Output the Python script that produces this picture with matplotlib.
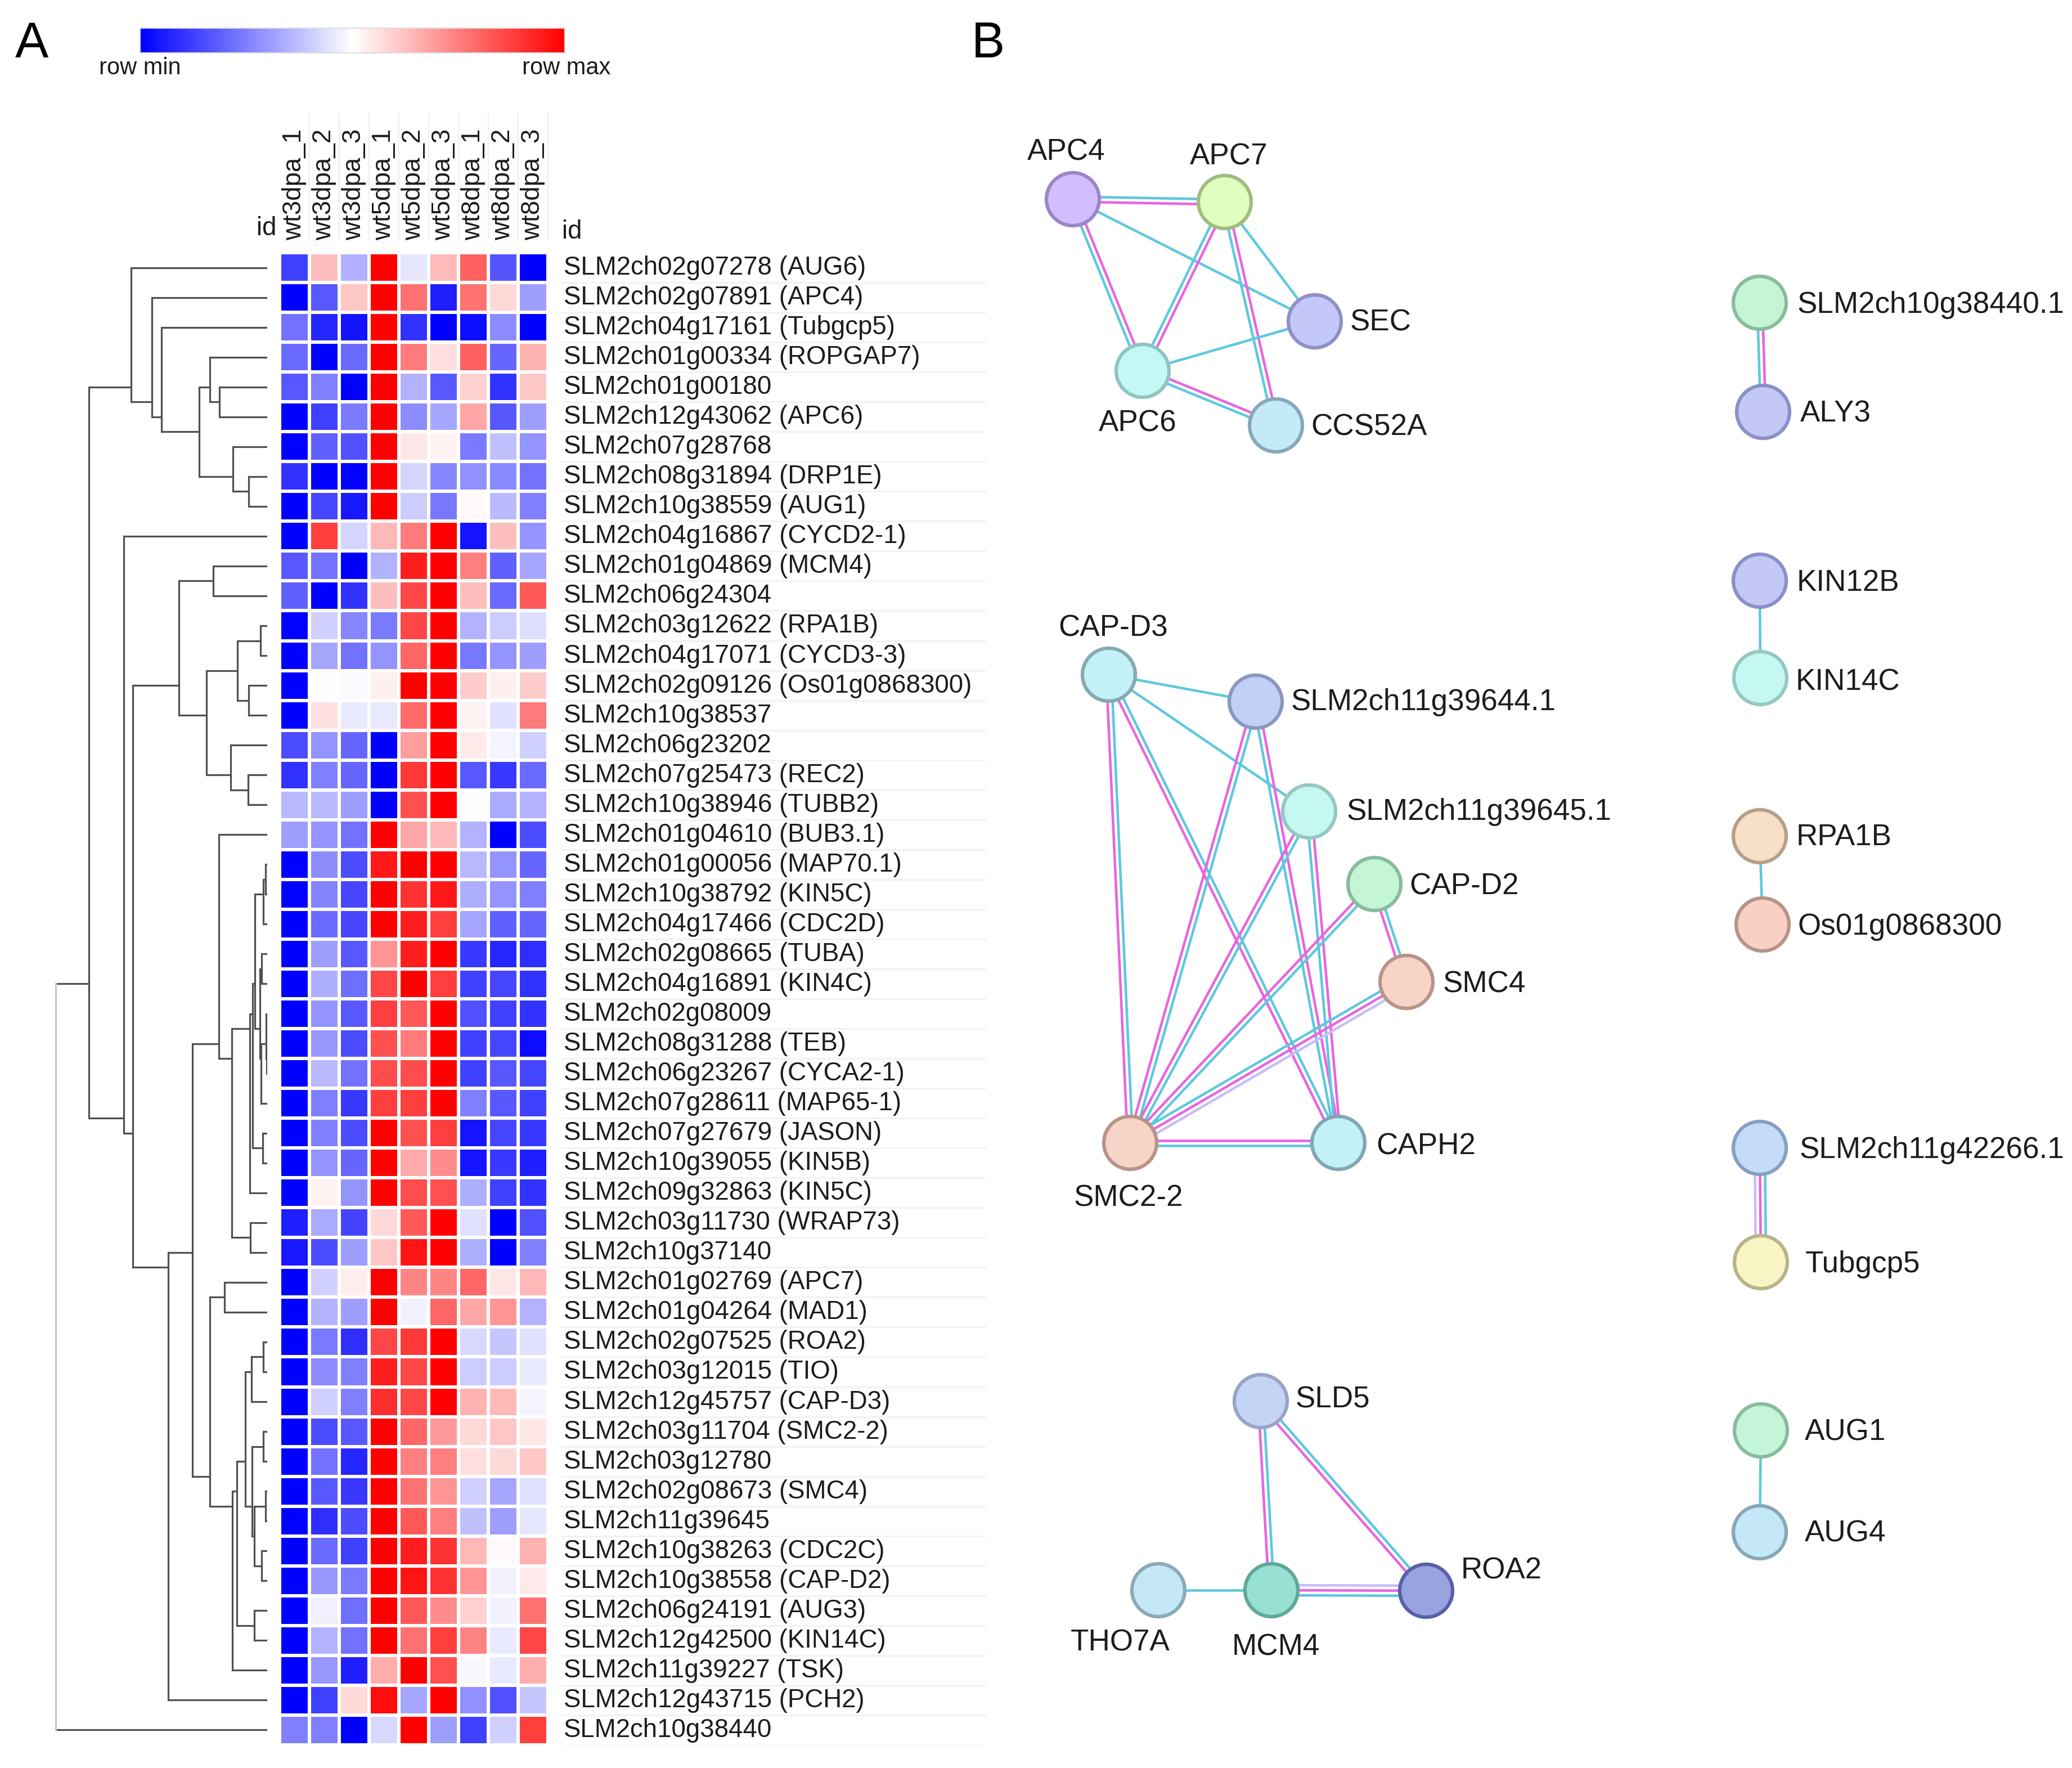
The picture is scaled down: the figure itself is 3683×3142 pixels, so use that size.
import numpy as np
from matplotlib import pyplot as plt
from matplotlib.cm import ScalarMappable
from matplotlib.colors import LinearSegmentedColormap, Normalize
from matplotlib.patches import Circle
from matplotlib.transforms import ScaledTranslation

plt.rcParams['font.family'] = ['Liberation Sans', 'DejaVu Sans']

W, H = 3683, 3142
TEXT = '#1c1c1c'

samples = ['wt3dpa_1', 'wt3dpa_2', 'wt3dpa_3', 'wt5dpa_1', 'wt5dpa_2', 'wt5dpa_3',
           'wt8dpa_1', 'wt8dpa_2', 'wt8dpa_3']

genes = ['SLM2ch02g07278 (AUG6)', 'SLM2ch02g07891 (APC4)', 'SLM2ch04g17161 (Tubgcp5)',
         'SLM2ch01g00334 (ROPGAP7)', 'SLM2ch01g00180', 'SLM2ch12g43062 (APC6)',
         'SLM2ch07g28768', 'SLM2ch08g31894 (DRP1E)', 'SLM2ch10g38559 (AUG1)',
         'SLM2ch04g16867 (CYCD2-1)', 'SLM2ch01g04869 (MCM4)', 'SLM2ch06g24304',
         'SLM2ch03g12622 (RPA1B)', 'SLM2ch04g17071 (CYCD3-3)', 'SLM2ch02g09126 (Os01g0868300)',
         'SLM2ch10g38537', 'SLM2ch06g23202', 'SLM2ch07g25473 (REC2)', 'SLM2ch10g38946 (TUBB2)',
         'SLM2ch01g04610 (BUB3.1)', 'SLM2ch01g00056 (MAP70.1)', 'SLM2ch10g38792 (KIN5C)',
         'SLM2ch04g17466 (CDC2D)', 'SLM2ch02g08665 (TUBA)', 'SLM2ch04g16891 (KIN4C)',
         'SLM2ch02g08009', 'SLM2ch08g31288 (TEB)', 'SLM2ch06g23267 (CYCA2-1)',
         'SLM2ch07g28611 (MAP65-1)', 'SLM2ch07g27679 (JASON)', 'SLM2ch10g39055 (KIN5B)',
         'SLM2ch09g32863 (KIN5C)', 'SLM2ch03g11730 (WRAP73)', 'SLM2ch10g37140',
         'SLM2ch01g02769 (APC7)', 'SLM2ch01g04264 (MAD1)', 'SLM2ch02g07525 (ROA2)',
         'SLM2ch03g12015 (TIO)', 'SLM2ch12g45757 (CAP-D3)', 'SLM2ch03g11704 (SMC2-2)',
         'SLM2ch03g12780', 'SLM2ch02g08673 (SMC4)', 'SLM2ch11g39645', 'SLM2ch10g38263 (CDC2C)',
         'SLM2ch10g38558 (CAP-D2)', 'SLM2ch06g24191 (AUG3)', 'SLM2ch12g42500 (KIN14C)',
         'SLM2ch11g39227 (TSK)', 'SLM2ch12g43715 (PCH2)', 'SLM2ch10g38440']

# row scaled colour, -100 = row min, 100 = row max
expr = [
    [-75, 25, -31, 100, -10, 27, 62, -67, -100],
    [-100, -65, 22, 100, 55, -88, 55, 15, -38],
    [-55, -85, -92, 100, -80, -100, -95, -45, -100],
    [-58, -100, -58, 100, 52, 13, 62, -60, 30],
    [-65, -50, -100, 100, -30, -65, 18, -80, 22],
    [-100, -75, -52, 100, -45, -35, 35, -65, -38],
    [-100, -62, -68, 100, 10, 5, -52, -25, -42],
    [-80, -100, -100, 100, -17, -47, -43, -46, -55],
    [-100, -72, -90, 100, -20, -53, 2, -27, -50],
    [-100, 75, -17, 28, 52, 100, -92, 25, -42],
    [-65, -55, -100, -30, 88, 100, 50, -62, -35],
    [-62, -100, -80, 25, 72, 100, 25, -58, 65],
    [-100, -18, -47, -52, 72, 100, -30, -20, -13],
    [-100, -35, -55, -42, 60, 100, -53, -42, -38],
    [-100, 1, -2, 6, 100, 100, 20, 6, 20],
    [-100, 12, -8, -9, 58, 100, 5, -12, 52],
    [-70, -42, -60, -100, 38, 100, 8, -4, -18],
    [-80, -50, -60, -100, 78, 100, -65, -78, -58],
    [-28, -28, -38, -100, 68, 100, 0, -33, -30],
    [-38, -42, -55, 100, 35, 28, -30, -100, -70],
    [-100, -45, -70, 90, 100, 100, -28, -42, -60],
    [-100, -48, -72, 100, 80, 90, -32, -42, -50],
    [-100, -58, -72, 100, 88, 75, -35, -62, -60],
    [-100, -38, -65, 42, 88, 100, -78, -85, -82],
    [-100, -32, -57, 72, 100, 75, -75, -72, -80],
    [-100, -42, -65, 75, 65, 100, -68, -75, -80],
    [-100, -40, -70, 68, 52, 100, -75, -72, -95],
    [-100, -27, -55, 70, 70, 100, -75, -65, -72],
    [-100, -50, -78, 75, 75, 100, -50, -65, -75],
    [-100, -50, -70, 100, 68, 75, -92, -72, -78],
    [-100, -42, -60, 100, 33, 45, -92, -78, -88],
    [-100, 5, -42, 100, 70, 68, -32, -75, -80],
    [-88, -33, -73, 15, 65, 100, -12, -100, -68],
    [-90, -70, -38, 22, 92, 100, -32, -100, -50],
    [-100, -18, 7, 100, 48, 48, 60, 10, 28],
    [-100, -30, -38, 100, -5, 60, 35, 42, -30],
    [-100, -52, -82, 72, 78, 100, -15, -22, -12],
    [-100, -45, -50, 88, 72, 100, -20, -20, -8],
    [-100, -18, -50, 82, 72, 100, 30, 28, -4],
    [-100, -70, -65, 100, 60, 40, 15, 22, 10],
    [-100, -55, -85, 100, 50, 50, 13, 15, 22],
    [-100, -65, -78, 100, 55, 42, -18, -35, -12],
    [-100, -82, -70, 100, 65, 50, -25, -38, -10],
    [-100, -58, -75, 100, 88, 80, 28, 2, 30],
    [-100, -40, -52, 100, 92, 80, 42, -5, 8],
    [-100, -6, -57, 100, 65, 45, 18, -5, 55],
    [-100, -30, -55, 100, 55, 75, 48, -8, 72],
    [-100, -40, -88, 32, 100, 68, -3, -8, 32],
    [-100, -75, 15, 95, -35, 100, -43, -68, -22],
    [-50, -50, -100, -15, 100, -38, -75, -18, 75],
]

# dendrogram, (merge distance, upper child, lower child), ints are row numbers
upper = (233, 1, (270, 2, (287, 3, (354, (373, 4, (390, 5, 6)), (414, 7, (442, 8, 9))))))
mid = (318, (379, 11, 12), (367, (422, (463, 13, 14), (442, 15, 16)), (410, 17, (441, 18, 19))))
block_a = (449, (453, (468, (472, 21, 22), 23),
                 (462, (465, 24, 25), (464, (473, 26, (474, 27, 28)), 29))),
           (467, 30, 31))
block_b = (389, 20, (412, (444, block_a, 32), (445, 33, 34)))
block_c = (436, (447, (468, 37, 38), 39), (448, (468, 40, 41), (452, (472, 42, 43), (465, 44, 45))))
block_d = (373, (399, 35, 36), (413, (421, block_c, (452, 46, 47)), 48))
lower = (299, (342, block_b, block_d), 49)
tree = (99, (158, upper, (220, 10, (236, mid, lower))), 50)

# network, nodes
names = ['APC4', 'APC7', 'SEC', 'APC6', 'CCS52A',
         'CAP-D3', 'SLM2ch11g39644.1', 'SLM2ch11g39645.1', 'CAP-D2', 'SMC4', 'SMC2-2', 'CAPH2',
         'SLD5', 'THO7A', 'MCM4', 'ROA2',
         'SLM2ch10g38440.1', 'ALY3', 'KIN12B', 'KIN14C', 'RPA1B', 'Os01g0868300',
         'SLM2ch11g42266.1', 'Tubgcp5', 'AUG1', 'AUG4']
node_x = [1907, 2177, 2337, 2031, 2268,
          1971, 2232, 2327, 2443, 2500, 2009, 2379,
          2241, 2059, 2260, 2535,
          3128, 3134, 3128, 3129, 3128, 3133,
          3128, 3130, 3130, 3128]
node_y = [354, 359, 571, 659, 756,
          1199, 1247, 1442, 1571, 1745, 2031, 2031,
          2490, 2826, 2826, 2827,
          538, 732, 1032, 1205, 1486, 1643,
          2040, 2243, 2542, 2723]
node_fill = ['#d3bfff', '#e0ffbe', '#c3c8f8', '#c3f8f4', '#c4e9f8',
             '#c4f0f8', '#c2d0f5', '#c6f8f2', '#c4f5d4', '#f8d4c8', '#f8d4c8', '#c4f0f8',
             '#c4d4f5', '#c4e8f8', '#98e0d4', '#98a4e0',
             '#c4f5d4', '#c3c8f5', '#c3c8f5', '#c6f8f2', '#f8e0c8', '#f8d0c4',
             '#c4dcf8', '#f8f4c4', '#c4f5d8', '#c4e8f8']
node_edge = ['#9a86c8', '#a0bc80', '#8f8fc8', '#90c4c0', '#88a8b8',
             '#85aab0', '#8898c0', '#94c8c0', '#88bc9c', '#b89488', '#b89488', '#80a8b4',
             '#98a4c8', '#8caab8', '#60a898', '#5860a8',
             '#88bc9c', '#8a90c8', '#8a90c8', '#94c8c0', '#b8a088', '#b89488',
             '#88a0c0', '#b8b488', '#88bc9c', '#88a8b8']

# label anchors: left aligned unless the label sits above or under its node
label_x = [1895, 2184, 2400, 2022, 2330,
           1979, 2295, 2394, 2505, 2565, 2006, 2446,
           2303, 1991, 2268, 2597,
           3195, 3200, 3194, 3192, 3193, 3196,
           3199, 3209, 3208, 3208]
label_y = [270, 278, 573, 752, 759,
           1116, 1248, 1443, 1575, 1749, 2130, 2037,
           2488, 2919, 2927, 2792,
           542, 735, 1036, 1212, 1488, 1647,
           2044, 2247, 2546, 2725]
label_center = ['APC4', 'APC7', 'APC6', 'CAP-D3', 'SMC2-2', 'THO7A', 'MCM4']

# network, edges as (node, node, evidence channels)
edges = [('APC4', 'APC7', 'mc'), ('APC4', 'APC6', 'cm'), ('APC4', 'SEC', 'c'), ('APC7', 'SEC', 'c'),
         ('APC7', 'APC6', 'cm'), ('APC7', 'CCS52A', 'cm'), ('APC6', 'SEC', 'c'), ('APC6', 'CCS52A', 'cm'),
         ('CAP-D3', 'SLM2ch11g39644.1', 'c'), ('CAP-D3', 'SLM2ch11g39645.1', 'c'),
         ('CAP-D3', 'SMC2-2', 'mc'), ('CAP-D3', 'CAPH2', 'mc'),
         ('SLM2ch11g39644.1', 'SMC2-2', 'mc'), ('SLM2ch11g39644.1', 'CAPH2', 'cm'),
         ('SLM2ch11g39645.1', 'SMC2-2', 'mc'), ('SLM2ch11g39645.1', 'CAPH2', 'cm'),
         ('CAP-D2', 'SMC2-2', 'mc'), ('CAP-D2', 'SMC4', 'mc'), ('SMC4', 'SMC2-2', 'cml'),
         ('SMC2-2', 'CAPH2', 'cm'),
         ('SLD5', 'MCM4', 'mc'), ('SLD5', 'ROA2', 'mc'), ('THO7A', 'MCM4', 'c'), ('MCM4', 'ROA2', 'cml'),
         ('SLM2ch10g38440.1', 'ALY3', 'cm'), ('KIN12B', 'KIN14C', 'c'), ('RPA1B', 'Os01g0868300', 'c'),
         ('SLM2ch11g42266.1', 'Tubgcp5', 'lmc'), ('AUG1', 'AUG4', 'c')]
channel_color = {'c': '#5fc8de', 'm': '#e766e0', 'l': '#c9bcfa'}


def px_axes(fig, x0, y0, x1, y1):
    return fig.add_axes([x0 / W, 1 - y1 / H, (x1 - x0) / W, (y1 - y0) / H])


def draw_tree(ax, node, root=True):
    # y of a merge is the mean row of all leaves under it
    if isinstance(node, int):
        return 475, node - 0.5, 1
    x, a, b = node
    xa, ya, na = draw_tree(ax, a, False)
    xb, yb, nb = draw_tree(ax, b, False)
    ax.plot([x, xa], [ya, ya], color='#505050', lw=2.3, solid_capstyle='butt')
    ax.plot([x, xb], [yb, yb], color='#505050', lw=2.3, solid_capstyle='butt')
    ax.plot([x, x], [ya, yb], color='#c4c4c4' if root else '#505050', lw=2.3, solid_capstyle='projecting')
    return x, (ya * na + yb * nb) / (na + nb), na + nb


fig = plt.figure(figsize=(W / 100, H / 100), dpi=100)
cmap = LinearSegmentedColormap.from_list('rowscale', ['#0000ff', '#ffffff', '#ff0000'])
norm = Normalize(-100, 100)

# heatmap
HEAT_TOP, HEAT_BOTTOM = 449, 3101
ax_heat = px_axes(fig, 497, HEAT_TOP, 974, HEAT_BOTTOM)
ax_heat.pcolormesh(np.array(expr), cmap=cmap, norm=norm, edgecolors='white', linewidth=3.2)
ax_heat.set_xlim(0, len(samples))
ax_heat.set_ylim(len(genes), 0)
ax_heat.set_xticks(np.arange(len(samples)) + 0.5, samples, rotation=90, fontsize=32.9, color=TEXT)
ax_heat.set_yticks(np.arange(len(genes)) + 0.5, genes, fontsize=32.9, color=TEXT)
ax_heat.xaxis.tick_top()
ax_heat.yaxis.tick_right()
ax_heat.tick_params(axis='x', length=0, pad=16)
ax_heat.tick_params(axis='y', length=0, pad=20)
# labels sit a little above the cell centres
lift = ScaledTranslation(0, 4.5 / 100, fig.dpi_scale_trans)
for lab in ax_heat.get_yticklabels():
    lab.set_transform(lab.get_transform() + lift)
for s in ax_heat.spines.values():
    s.set_visible(False)
row_h = (HEAT_BOTTOM - HEAT_TOP) / len(genes)
ax_heat.vlines(np.arange(1, len(samples) + 1), -(HEAT_TOP - 200) / row_h, -(HEAT_TOP - 426) / row_h,
               color='#eeeeee', lw=1.5, clip_on=False)

# row separators behind the labels
ax_sep = px_axes(fig, 997, HEAT_TOP, 1753, HEAT_BOTTOM)
ax_sep.set_xlim(0, 1)
ax_sep.set_ylim(len(genes), 0)
ax_sep.hlines(np.arange(1, len(genes) + 1), 0, 1, color='#f0f0f0', lw=1.8)
ax_sep.axis('off')
ax_sep.patch.set_alpha(0)

# dendrogram
ax_tree = px_axes(fig, 0, HEAT_TOP, 475, HEAT_BOTTOM)
ax_tree.set_xlim(0, 475)
ax_tree.set_ylim(len(genes), 0)
draw_tree(ax_tree, tree)
ax_tree.axis('off')

# colour key
ax_key = px_axes(fig, 249, 50, 1004, 94)
cb = fig.colorbar(ScalarMappable(norm=norm, cmap=cmap), cax=ax_key, orientation='horizontal')
cb.set_ticks([])
cb.outline.set_edgecolor('#dddddd')
cb.outline.set_linewidth(1.5)

# everything else sits on a full figure axes in pixels
ax = fig.add_axes([0, 0, 1, 1], zorder=5)
ax.set_xlim(0, W)
ax.set_ylim(H, 0)
ax.axis('off')
ax.patch.set_alpha(0)

ax.text(249, 132, 'row min', fontsize=30, ha='center', va='baseline', color=TEXT)
ax.text(1007, 132, 'row max', fontsize=30, ha='center', va='baseline', color=TEXT)
ax.text(474, 418, 'id', fontsize=32.9, ha='center', va='baseline', color=TEXT)
ax.text(999, 424, 'id', fontsize=32.9, ha='left', va='baseline', color=TEXT)
ax.text(27, 102, 'A', fontsize=64, ha='left', va='baseline', color='black')
ax.text(1727, 102, 'B', fontsize=64, ha='left', va='baseline', color='black')

# network edges under the nodes
pos = {n: np.array([x, y], dtype=float) for n, x, y in zip(names, node_x, node_y)}
for a, b, chans in edges:
    d = pos[b] - pos[a]
    normal = np.array([d[1], -d[0]]) / np.hypot(*d)
    for i, ch in enumerate(chans):
        off = normal * 9.0 * (i - (len(chans) - 1) / 2)
        p = pos[a] + off
        q = pos[b] + off
        ax.plot([p[0], q[0]], [p[1], q[1]], color=channel_color[ch], lw=3.3,
                solid_capstyle='butt', zorder=2)

for n, x, y, fc, ec, lx, ly in zip(names, node_x, node_y, node_fill, node_edge, label_x, label_y):
    ax.add_patch(Circle((x, y), 47, facecolor=fc, edgecolor=ec, lw=4.5, zorder=3))
    ax.text(lx, ly, n, fontsize=38.2, color=TEXT, va='center', zorder=4,
            ha='center' if n in label_center else 'left')

fig.savefig('out.png', dpi=100, facecolor='white')
